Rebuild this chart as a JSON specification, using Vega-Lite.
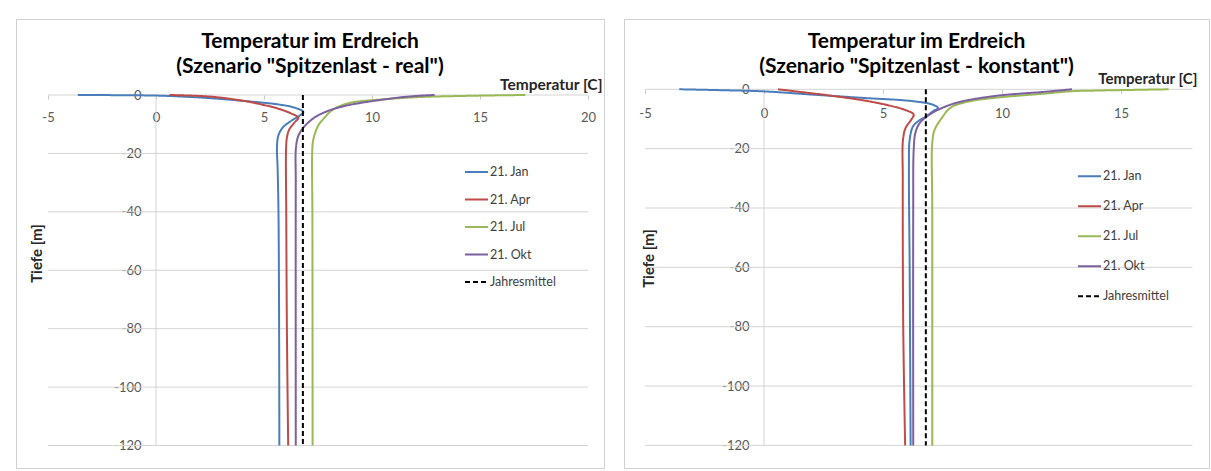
{
  "$schema": "https://vega.github.io/schema/vega-lite/v6.json",
  "padding": {"left": 15, "top": 18, "right": 0, "bottom": 0},
  "background": "white",
  "spacing": 18,
  "config": {
    "view": {"stroke": "#cfcfcf", "strokeWidth": 1},
    "font": "Lato"
  },
  "resolve": {
    "scale": {"color": "independent", "strokeDash": "independent", "strokeWidth": "independent"},
    "legend": {"color": "independent", "strokeDash": "independent"}
  },
  "datasets": {
    "grid": [{"g": 0}, {"g": -20}, {"g": -40}, {"g": -60}, {"g": -80}, {"g": -100}, {"g": -120}],
    "yline": [{"x": 0}],
    "real": [
      {"s": "21. Jan", "d": 0, "t": -3.62},
      {"s": "21. Jan", "d": -0.2, "t": 0.02},
      {"s": "21. Jan", "d": -0.6, "t": 1.4},
      {"s": "21. Jan", "d": -1.1, "t": 2.55},
      {"s": "21. Jan", "d": -2.05, "t": 4.09},
      {"s": "21. Jan", "d": -3.2, "t": 5.63},
      {"s": "21. Jan", "d": -4.3, "t": 6.4},
      {"s": "21. Jan", "d": -5.8, "t": 6.82},
      {"s": "21. Jan", "d": -7.2, "t": 6.63},
      {"s": "21. Jan", "d": -8.9, "t": 6.25},
      {"s": "21. Jan", "d": -11.2, "t": 5.86},
      {"s": "21. Jan", "d": -14, "t": 5.66},
      {"s": "21. Jan", "d": -18, "t": 5.6},
      {"s": "21. Jan", "d": -25, "t": 5.63},
      {"s": "21. Jan", "d": -40, "t": 5.67},
      {"s": "21. Jan", "d": -80, "t": 5.7},
      {"s": "21. Jan", "d": -120, "t": 5.71},
      {"s": "21. Apr", "d": 0, "t": 0.62},
      {"s": "21. Apr", "d": -0.57, "t": 2.55},
      {"s": "21. Apr", "d": -2.05, "t": 4.09},
      {"s": "21. Apr", "d": -3.2, "t": 4.86},
      {"s": "21. Apr", "d": -4.6, "t": 5.63},
      {"s": "21. Apr", "d": -6.3, "t": 6.25},
      {"s": "21. Apr", "d": -7.8, "t": 6.59},
      {"s": "21. Apr", "d": -9.5, "t": 6.4},
      {"s": "21. Apr", "d": -11.8, "t": 6.17},
      {"s": "21. Apr", "d": -14.6, "t": 6.06},
      {"s": "21. Apr", "d": -19.2, "t": 6.02},
      {"s": "21. Apr", "d": -40, "t": 6.03},
      {"s": "21. Apr", "d": -80, "t": 6.06},
      {"s": "21. Apr", "d": -120, "t": 6.12},
      {"s": "21. Jul", "d": 0, "t": 17.1},
      {"s": "21. Jul", "d": -0.15, "t": 15.5},
      {"s": "21. Jul", "d": -0.35, "t": 14.0},
      {"s": "21. Jul", "d": -0.68, "t": 12.27},
      {"s": "21. Jul", "d": -1.5, "t": 10.5},
      {"s": "21. Jul", "d": -2.6, "t": 9.03},
      {"s": "21. Jul", "d": -4.0, "t": 8.45},
      {"s": "21. Jul", "d": -5.5, "t": 8.1},
      {"s": "21. Jul", "d": -7.8, "t": 7.8},
      {"s": "21. Jul", "d": -10, "t": 7.55},
      {"s": "21. Jul", "d": -12.3, "t": 7.4},
      {"s": "21. Jul", "d": -15.8, "t": 7.27},
      {"s": "21. Jul", "d": -20, "t": 7.23},
      {"s": "21. Jul", "d": -40, "t": 7.24},
      {"s": "21. Jul", "d": -120, "t": 7.25},
      {"s": "21. Okt", "d": 0, "t": 12.9},
      {"s": "21. Okt", "d": -0.3, "t": 12.1},
      {"s": "21. Okt", "d": -0.9, "t": 11.2},
      {"s": "21. Okt", "d": -1.83, "t": 10.26},
      {"s": "21. Okt", "d": -2.8, "t": 9.4},
      {"s": "21. Okt", "d": -3.77, "t": 8.72},
      {"s": "21. Okt", "d": -5.48, "t": 7.95},
      {"s": "21. Okt", "d": -7.76, "t": 7.33},
      {"s": "21. Okt", "d": -11.2, "t": 6.82},
      {"s": "21. Okt", "d": -14, "t": 6.59},
      {"s": "21. Okt", "d": -18, "t": 6.48},
      {"s": "21. Okt", "d": -30, "t": 6.47},
      {"s": "21. Okt", "d": -120, "t": 6.47},
      {"s": "Jahresmittel", "d": 0, "t": 6.8},
      {"s": "Jahresmittel", "d": -120, "t": 6.8}
    ],
    "konstant": [
      {"s": "21. Jan", "d": 0, "t": -3.56},
      {"s": "21. Jan", "d": -0.3, "t": -1.8},
      {"s": "21. Jan", "d": -0.7, "t": 0.0},
      {"s": "21. Jan", "d": -1.8, "t": 2.06},
      {"s": "21. Jan", "d": -2.9, "t": 4.16},
      {"s": "21. Jan", "d": -4.0, "t": 6.26},
      {"s": "21. Jan", "d": -5.2, "t": 7.1},
      {"s": "21. Jan", "d": -6.3, "t": 7.31},
      {"s": "21. Jan", "d": -7.4, "t": 7.1},
      {"s": "21. Jan", "d": -9.1, "t": 6.82},
      {"s": "21. Jan", "d": -10.8, "t": 6.47},
      {"s": "21. Jan", "d": -12.5, "t": 6.26},
      {"s": "21. Jan", "d": -17, "t": 6.12},
      {"s": "21. Jan", "d": -26, "t": 6.09},
      {"s": "21. Jan", "d": -60, "t": 6.12},
      {"s": "21. Jan", "d": -120, "t": 6.16},
      {"s": "21. Apr", "d": 0, "t": 0.59},
      {"s": "21. Apr", "d": -1.0, "t": 1.64},
      {"s": "21. Apr", "d": -2.1, "t": 2.76},
      {"s": "21. Apr", "d": -3.7, "t": 4.16},
      {"s": "21. Apr", "d": -5.5, "t": 5.28},
      {"s": "21. Apr", "d": -7.1, "t": 5.98},
      {"s": "21. Apr", "d": -8.5, "t": 6.29},
      {"s": "21. Apr", "d": -10.2, "t": 6.19},
      {"s": "21. Apr", "d": -13, "t": 5.95},
      {"s": "21. Apr", "d": -17, "t": 5.84},
      {"s": "21. Apr", "d": -30, "t": 5.83},
      {"s": "21. Apr", "d": -80, "t": 5.85},
      {"s": "21. Apr", "d": -120, "t": 5.93},
      {"s": "21. Jul", "d": 0, "t": 17.0},
      {"s": "21. Jul", "d": -0.2, "t": 15.5},
      {"s": "21. Jul", "d": -0.45, "t": 13.8},
      {"s": "21. Jul", "d": -0.65, "t": 12.9},
      {"s": "21. Jul", "d": -1.5, "t": 11.72},
      {"s": "21. Jul", "d": -2.7, "t": 9.9},
      {"s": "21. Jul", "d": -3.8, "t": 8.8},
      {"s": "21. Jul", "d": -4.8, "t": 8.25},
      {"s": "21. Jul", "d": -5.7, "t": 7.94},
      {"s": "21. Jul", "d": -7.2, "t": 7.7},
      {"s": "21. Jul", "d": -9.1, "t": 7.52},
      {"s": "21. Jul", "d": -13.6, "t": 7.17},
      {"s": "21. Jul", "d": -18.1, "t": 7.07},
      {"s": "21. Jul", "d": -40, "t": 7.07},
      {"s": "21. Jul", "d": -120, "t": 7.07},
      {"s": "21. Okt", "d": 0, "t": 12.94},
      {"s": "21. Okt", "d": -0.4, "t": 12.4},
      {"s": "21. Okt", "d": -0.9, "t": 11.72},
      {"s": "21. Okt", "d": -1.5, "t": 10.7},
      {"s": "21. Okt", "d": -2.2, "t": 9.76},
      {"s": "21. Okt", "d": -4.0, "t": 8.36},
      {"s": "21. Okt", "d": -5.7, "t": 7.66},
      {"s": "21. Okt", "d": -8.5, "t": 6.96},
      {"s": "21. Okt", "d": -11.4, "t": 6.54},
      {"s": "21. Okt", "d": -14.7, "t": 6.36},
      {"s": "21. Okt", "d": -20.4, "t": 6.29},
      {"s": "21. Okt", "d": -40, "t": 6.27},
      {"s": "21. Okt", "d": -120, "t": 6.27},
      {"s": "Jahresmittel", "d": 0, "t": 6.8},
      {"s": "Jahresmittel", "d": -120, "t": 6.8}
    ]
  },
  "hconcat": [
    {
      "width": 588,
      "height": 449,
      "title": {
        "text": ["Temperatur im Erdreich", "(Szenario \"Spitzenlast - real\")"],
        "offset": -58,
        "fontSize": 21,
        "fontWeight": "bold",
        "font": "Lato",
        "color": "#000000",
        "lineHeight": 25,
        "anchor": "middle"
      },
      "layer": [
        {
          "data": {"name": "grid"},
          "mark": {"type": "rule", "color": "#d4d4d4", "strokeWidth": 1},
          "encoding": {
            "y": {
              "field": "g", "type": "quantitative",
              "scale": {"domain": [-127.7, 26.02], "nice": false, "zero": false},
              "axis": {
                "orient": "left", "offset": -140, "values": [0, -20, -40, -60, -80, -100, -120],
                "labelExpr": "'' + datum.value",
                "domain": false, "grid": false, "ticks": false,
                "labelPadding": 15, "labelFontSize": 13, "labelColor": "#595959", "labelFont": "Lato",
                "labelFlush": false, "labelOverlap": false,
                "title": "Tiefe [m]", "titleX": -120, "titleY": 234, "titleAngle": 270,
                "titleAlign": "center", "titleBaseline": "middle", "titleFontSize": 15,
                "titleFontWeight": "bold", "titleColor": "#262626", "titleFont": "Lato"
              }
            },
            "x": {
              "datum": -5, "type": "quantitative",
              "scale": {"domain": [-6.4815, 20.7407], "nice": false, "zero": false},
              "axis": {
                "orient": "bottom", "offset": -373, "values": [-5, 0, 5, 10, 15, 20],
                "labelExpr": "'' + datum.value",
                "domain": false, "grid": false, "ticks": true, "tickSize": 4, "tickColor": "#c8c8c8",
                "labelPadding": 12, "labelFontSize": 13, "labelColor": "#595959", "labelFont": "Lato",
                "labelFlush": false, "labelOverlap": false,
                "title": "Temperatur [C]", "titleX": 586, "titleY": -6, "titleAlign": "right",
                "titleBaseline": "alphabetic", "titleFontSize": 15.5, "titleFontWeight": "bold",
                "titleColor": "#262626", "titleFont": "Lato"
              }
            },
            "x2": {"datum": 20}
          }
        },
        {
          "data": {"name": "yline"},
          "mark": {"type": "rule", "color": "#d4d4d4", "strokeWidth": 1},
          "encoding": {
            "x": {"field": "x", "type": "quantitative", "scale": {"domain": [-6.4815, 20.7407], "nice": false, "zero": false}},
            "y": {"datum": 0, "type": "quantitative", "scale": {"domain": [-127.7, 26.02], "nice": false, "zero": false}},
            "y2": {"datum": -120}
          }
        },
        {
          "data": {"name": "real"},
          "mark": {"type": "line", "interpolate": "catmull-rom"},
          "encoding": {
            "x": {"field": "t", "type": "quantitative", "scale": {"domain": [-6.4815, 20.7407], "nice": false, "zero": false}},
            "y": {"field": "d", "type": "quantitative", "scale": {"domain": [-127.7, 26.02], "nice": false, "zero": false}},
            "order": {"field": "d", "sort": "descending"},
            "color": {
              "field": "s", "type": "nominal",
              "scale": {"domain": ["21. Jan", "21. Apr", "21. Jul", "21. Okt", "Jahresmittel"], "range": ["#4A7EBB", "#BE4B48", "#98B954", "#7D60A0", "#000000"]},
              "legend": {"orient": "none", "legendX": 448, "legendY": 140.5, "title": null, "symbolType": "stroke", "symbolSize": 529, "symbolStrokeWidth": 2, "labelFontSize": 12.5, "labelFont": "Lato", "labelColor": "#404040", "rowPadding": 8.5, "labelOffset": 1, "padding": 0}
            },
            "strokeDash": {
              "field": "s", "type": "nominal",
              "scale": {"domain": ["21. Jan", "21. Apr", "21. Jul", "21. Okt", "Jahresmittel"], "range": [[1, 0], [1, 0], [1, 0], [1, 0], [5, 3]]},
              "legend": {"orient": "none", "legendX": 448, "legendY": 140.5, "title": null, "symbolType": "stroke", "symbolSize": 529, "symbolStrokeWidth": 2, "labelFontSize": 12.5, "labelFont": "Lato", "labelColor": "#404040", "rowPadding": 8.5, "labelOffset": 1, "padding": 0}
            },
            "strokeWidth": {
              "field": "s", "type": "nominal",
              "scale": {"domain": ["21. Jan", "21. Apr", "21. Jul", "21. Okt", "Jahresmittel"], "range": [2, 2, 2, 2, 2.5]},
              "legend": null
            }
          }
        }
      ]
    },
    {
      "width": 585,
      "height": 449,
      "title": {
        "text": ["Temperatur im Erdreich", "(Szenario \"Spitzenlast - konstant\")"],
        "offset": -58,
        "fontSize": 21,
        "fontWeight": "bold",
        "font": "Lato",
        "color": "#000000",
        "lineHeight": 25,
        "anchor": "middle"
      },
      "layer": [
        {
          "data": {"name": "grid"},
          "mark": {"type": "rule", "color": "#d4d4d4", "strokeWidth": 1},
          "encoding": {
            "y": {
              "field": "g", "type": "quantitative",
              "scale": {"domain": [-127.62, 23.69], "nice": false, "zero": false},
              "axis": {
                "orient": "left", "offset": -140, "values": [0, -20, -40, -60, -80, -100, -120],
                "labelExpr": "'' + datum.value",
                "domain": false, "grid": false, "ticks": false,
                "labelPadding": 15, "labelFontSize": 13, "labelColor": "#595959", "labelFont": "Lato",
                "labelFlush": false, "labelOverlap": false,
                "title": "Tiefe [m]", "titleX": -116, "titleY": 239, "titleAngle": 270,
                "titleAlign": "center", "titleBaseline": "middle", "titleFontSize": 15,
                "titleFontWeight": "bold", "titleColor": "#262626", "titleFont": "Lato"
              }
            },
            "x": {
              "datum": -5, "type": "quantitative",
              "scale": {"domain": [-5.882, 18.697], "nice": false, "zero": false},
              "axis": {
                "orient": "bottom", "offset": -378.7, "values": [-5, 0, 5, 10, 15],
                "labelExpr": "'' + datum.value",
                "domain": false, "grid": false, "ticks": true, "tickSize": 4, "tickColor": "#c8c8c8",
                "labelPadding": 14, "labelFontSize": 13, "labelColor": "#595959", "labelFont": "Lato",
                "labelFlush": false, "labelOverlap": false,
                "title": "Temperatur [C]", "titleX": 573, "titleY": -6, "titleAlign": "right",
                "titleBaseline": "alphabetic", "titleFontSize": 15, "titleFontWeight": "bold",
                "titleColor": "#262626", "titleFont": "Lato"
              }
            },
            "x2": {"datum": 18}
          }
        },
        {
          "data": {"name": "yline"},
          "mark": {"type": "rule", "color": "#d4d4d4", "strokeWidth": 1},
          "encoding": {
            "x": {"field": "x", "type": "quantitative", "scale": {"domain": [-5.882, 18.697], "nice": false, "zero": false}},
            "y": {"datum": 0, "type": "quantitative", "scale": {"domain": [-127.62, 23.69], "nice": false, "zero": false}},
            "y2": {"datum": -120}
          }
        },
        {
          "data": {"name": "konstant"},
          "mark": {"type": "line", "interpolate": "catmull-rom"},
          "encoding": {
            "x": {"field": "t", "type": "quantitative", "scale": {"domain": [-5.882, 18.697], "nice": false, "zero": false}},
            "y": {"field": "d", "type": "quantitative", "scale": {"domain": [-127.62, 23.69], "nice": false, "zero": false}},
            "order": {"field": "d", "sort": "descending"},
            "color": {
              "field": "s", "type": "nominal",
              "scale": {"domain": ["21. Jan", "21. Apr", "21. Jul", "21. Okt", "Jahresmittel"], "range": ["#4A7EBB", "#BE4B48", "#98B954", "#7D60A0", "#000000"]},
              "legend": {"orient": "none", "legendX": 453, "legendY": 144.7, "title": null, "symbolType": "stroke", "symbolSize": 529, "symbolStrokeWidth": 2, "labelFontSize": 12.5, "labelFont": "Lato", "labelColor": "#404040", "rowPadding": 11, "labelOffset": 1, "padding": 0}
            },
            "strokeDash": {
              "field": "s", "type": "nominal",
              "scale": {"domain": ["21. Jan", "21. Apr", "21. Jul", "21. Okt", "Jahresmittel"], "range": [[1, 0], [1, 0], [1, 0], [1, 0], [5, 3]]},
              "legend": {"orient": "none", "legendX": 453, "legendY": 144.7, "title": null, "symbolType": "stroke", "symbolSize": 529, "symbolStrokeWidth": 2, "labelFontSize": 12.5, "labelFont": "Lato", "labelColor": "#404040", "rowPadding": 11, "labelOffset": 1, "padding": 0}
            },
            "strokeWidth": {
              "field": "s", "type": "nominal",
              "scale": {"domain": ["21. Jan", "21. Apr", "21. Jul", "21. Okt", "Jahresmittel"], "range": [2, 2, 2, 2, 2.5]},
              "legend": null
            }
          }
        }
      ]
    }
  ]
}
